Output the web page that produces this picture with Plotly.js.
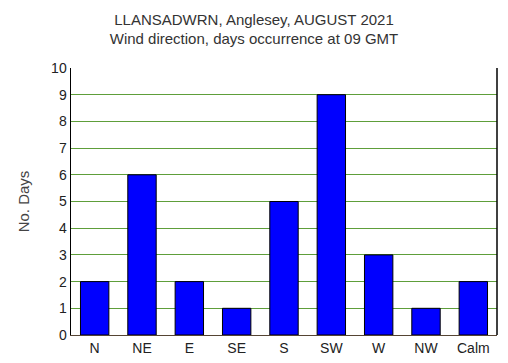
<!DOCTYPE html>
<html>
<head>
<script src="https://cdn.plot.ly/plotly-3.0.1.min.js"></script>
<style>html,body{margin:0;padding:0;background:#fff}#chart{width:508px;height:363px}</style>
</head>
<body>
<div id="chart"></div>
<script>
const directions = ["N", "NE", "E", "SE", "S", "SW", "W", "NW", "Calm"];
const days = [2, 6, 2, 1, 5, 9, 3, 1, 2];
const yTicks = [0, 1, 2, 3, 4, 5, 6, 7, 8, 9, 10];

Plotly.newPlot("chart", [{
  type: "bar",
  x: directions,
  y: days,
  marker: {color: "#0000ff", line: {color: "#000000", width: 1}},
  width: 0.6,
  hoverinfo: "x+y"
}], {
  width: 508, height: 363,
  margin: {l: 71, r: 11, t: 68, b: 28},
  paper_bgcolor: "#ffffff",
  plot_bgcolor: "#ffffff",
  font: {family: "Liberation Sans, Arial, sans-serif", size: 14, color: "#222"},
  title: {
    text: "LLANSADWRN, Anglesey, AUGUST 2021<br>Wind direction, days occurrence at 09 GMT",
    font: {size: 15, color: "#333"},
    x: 0.5, xanchor: "center", y: 0.932, yanchor: "top"
  },
  xaxis: {
    type: "category",
    showgrid: false,
    showline: true, linecolor: "#554433", linewidth: 1,
    ticks: "", tickfont: {size: 14, color: "#222"},
    mirror: false
  },
  yaxis: {
    range: [0, 10],
    tickvals: yTicks,
    ticktext: yTicks.map(String),
    showgrid: true, gridcolor: "#5e9e3a", gridwidth: 1,
    zeroline: false,
    showline: true, linecolor: "#000000", linewidth: 1.5,
    ticks: "", ticklen: 0,
    tickfont: {size: 14, color: "#222"},
    title: {text: "No. Days", font: {size: 15, color: "#444"}, standoff: 18}
  },
  shapes: [{
    type: "line", xref: "paper", yref: "paper",
    x0: 1, x1: 1, y0: 0, y1: 1,
    line: {color: "#000000", width: 1.5}
  }],
  showlegend: false,
  bargap: 0.4
}, {displayModeBar: false, staticPlot: true});
</script>
</body>
</html>
